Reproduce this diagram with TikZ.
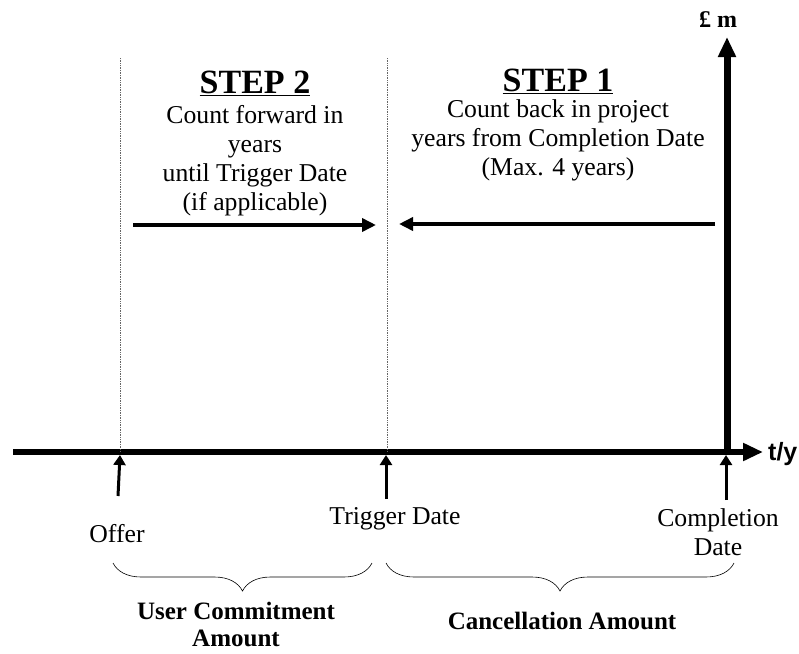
\documentclass[tikz,border=0pt]{standalone}
\usepackage{fontspec}
\setmainfont{Liberation Serif}
\newfontfamily\axisfont{Liberation Sans}
\usetikzlibrary{arrows.meta,decorations.pathreplacing}
\tikzset{
  axisline/.style ={line width=6pt, -{Triangle[length=20pt,width=17pt]}},
  guide/.style    ={draw=black!60, line width=0.7pt, densely dotted},
  steparrow/.style={line width=4.5pt, -{Triangle[length=14pt,width=13pt]}},
  datearrow/.style={line width=3pt, -{Triangle[length=10pt,width=12pt]}},
  bodytext/.style ={align=center, inner sep=0pt, font=\fontsize{25.7}{29}\selectfont},
  steptitle/.style={inner sep=0pt, font=\fontsize{34}{38}\selectfont\bfseries},
  sumlabel/.style ={align=center, inner sep=0pt, font=\fontsize{25}{27}\selectfont\bfseries},
  bracket/.style  ={decorate, decoration={brace, mirror, amplitude=28pt}, line width=0.6pt},
}

\begin{document}
\begin{tikzpicture}[x=1pt, y=-1pt]
\useasboundingbox (0,0) rectangle (799,653);

% axes
\coordinate (origin) at (727,452);
\coordinate (xstart) at (13,452);
\coordinate (xend) at (763,452);
\coordinate (ybase) at (727,455);
\coordinate (yend) at (727,37);
\draw[axisline] (xstart) -- (xend);
\draw[axisline, line width=7pt] (ybase) -- (yend);
\node[font=\fontsize{25}{28}\selectfont\bfseries\axisfont, anchor=west, inner sep=0pt] (tlab) at (768,454) {t/y};
\node[font=\fontsize{24}{28}\selectfont\bfseries, inner sep=0pt] (mlab) at (718,20) {£ m};

% guide lines
\coordinate (offtop) at (120,58);
\coordinate (offbot) at (120,452);
\coordinate (trigtop) at (387,58);
\coordinate (trigbot) at (387,452);
\draw[guide] (offtop) -- (offbot);
\draw[guide] (trigtop) -- (trigbot);

% step 2
\node[steptitle] (step2) at (255,83) {\underline{STEP 2}};
\node[bodytext] (step2txt) at (255,161) {Count forward in\\years\\until Trigger Date\\(if applicable)};
\coordinate (fwdA) at (133,225);
\coordinate (fwdB) at (376,225);
\draw[steparrow] (fwdA) -- (fwdB);

% step 1
\node[steptitle] (step1) at (558,81) {\underline{STEP 1}};
\node[bodytext] (step1txt) at (558,140) {Count back in project\\years from Completion Date\\(Max. 4 years)};
\coordinate (backA) at (715,224);
\coordinate (backB) at (399,224);
\draw[steparrow] (backA) -- (backB);

% dates
\node[bodytext] (offer) at (117,534) {Offer};
\node[bodytext] (trigger) at (395,519) {Trigger Date};
\node[bodytext] (completion) at (718,532) {Completion\\Date};
\coordinate (offA) at (118,496);
\coordinate (offB) at (120,455);
\coordinate (trigA) at (386,499);
\coordinate (trigB) at (386,455);
\coordinate (compA) at (726,500);
\coordinate (compB) at (726,455);
\draw[datearrow] (offA) -- (offB);
\draw[datearrow] (trigA) -- (trigB);
\draw[datearrow] (compA) -- (compB);

% amounts
\coordinate (ucL) at (113,563);
\coordinate (ucR) at (372,563);
\coordinate (caL) at (386,563);
\coordinate (caR) at (734,563);
\draw[bracket] (ucL) -- (ucR);
\draw[bracket] (caL) -- (caR);
\node[sumlabel] (usercommit) at (236,624) {User Commitment\\Amount};
\node[sumlabel] (cancel) at (562,621) {Cancellation Amount};
\end{tikzpicture}
\end{document}
